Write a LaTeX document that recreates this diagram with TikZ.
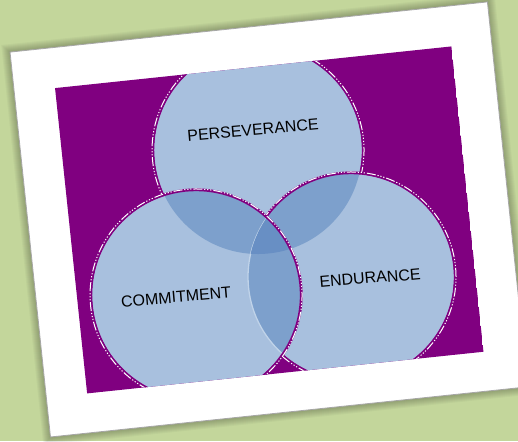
\documentclass[tikz,border=0pt]{standalone}
\usepackage{fontspec}
\setmainfont{Liberation Sans}
\definecolor{meadow}{RGB}{195,214,155}
\definecolor{plum}{RGB}{128,0,128}
\definecolor{venn}{RGB}{168,192,222}
\definecolor{vennmid}{RGB}{125,160,204}
\definecolor{venndark}{RGB}{104,143,196}
\definecolor{vennline}{RGB}{192,211,233}
\tikzset{rim/.style={draw=plum,line width=2.8pt},
         stitch/.style={draw=white,line width=1pt,dash pattern=on 1.2pt off 1.8pt on 1.2pt off 1.8pt on 1.2pt off 1.8pt on 9pt off 2pt},
         word/.style={font=\fontsize{16}{19}\selectfont,text=black,rotate=5,inner sep=0pt}}

\begin{document}
\begin{tikzpicture}[x=1pt,y=1pt]
        \fill[meadow] (0,0) rectangle (518,441);
        \useasboundingbox (0,0) rectangle (518,441);
        \begin{scope}[shift={(259,220.5)},rotate=6]
            \foreach \g in {1,...,8}
                \fill[black,opacity=0.03] (-230-\g,-193.5-\g) rectangle (250+\g,193.5+\g);
            \fill[white,draw=gray!70,line width=0.8pt] (-230,-193.5) rectangle (250,193.5);

            \coordinate (ptop) at (6.4,70.2);
            \coordinate (pleft) at (-70.4,-67.5);
            \coordinate (pright) at (85.6,-65.8);

            \begin{scope}
                \clip (-189,-154) rectangle (209.5,153);
                \fill[plum] (-189,-154) rectangle (209.5,153);
                \fill[venn] (ptop) circle (104);
                \draw[rim] (ptop) circle (105.2);
                \draw[stitch] (ptop) circle (106);
                \fill[venn] (pleft) circle (104) (pright) circle (103);
                \begin{scope}
                    \clip (ptop) circle (104);
                    \fill[vennmid] (pleft) circle (104) (pright) circle (103);
                \end{scope}
                \begin{scope}
                    \clip (pleft) circle (104);
                    \fill[vennmid] (pright) circle (103);
                    \draw[vennline,line width=1.3pt] (pright) circle (103);
                    \clip (ptop) circle (104);
                    \fill[venndark] (pright) circle (103);
                \end{scope}
                \begin{scope}[even odd rule]
                    \clip (-300,-300) rectangle (300,300) (pleft) circle (104);
                    \draw[rim] (pright) circle (104.2);
                    \draw[stitch] (pright) circle (105);
                \end{scope}
                \draw[rim] (pleft) circle (105.2);
                \draw[stitch] (pleft) circle (106);
            \end{scope}

            \node[word] (perseverance) at (3.5,90.6) {PERSEVERANCE};
            \node[word] (commitment) at (-90.5,-67.4) {COMMITMENT};
            \node[word] (endurance) at (104.4,-68.8) {ENDURANCE};
        \end{scope}
    \end{tikzpicture}
\end{document}
